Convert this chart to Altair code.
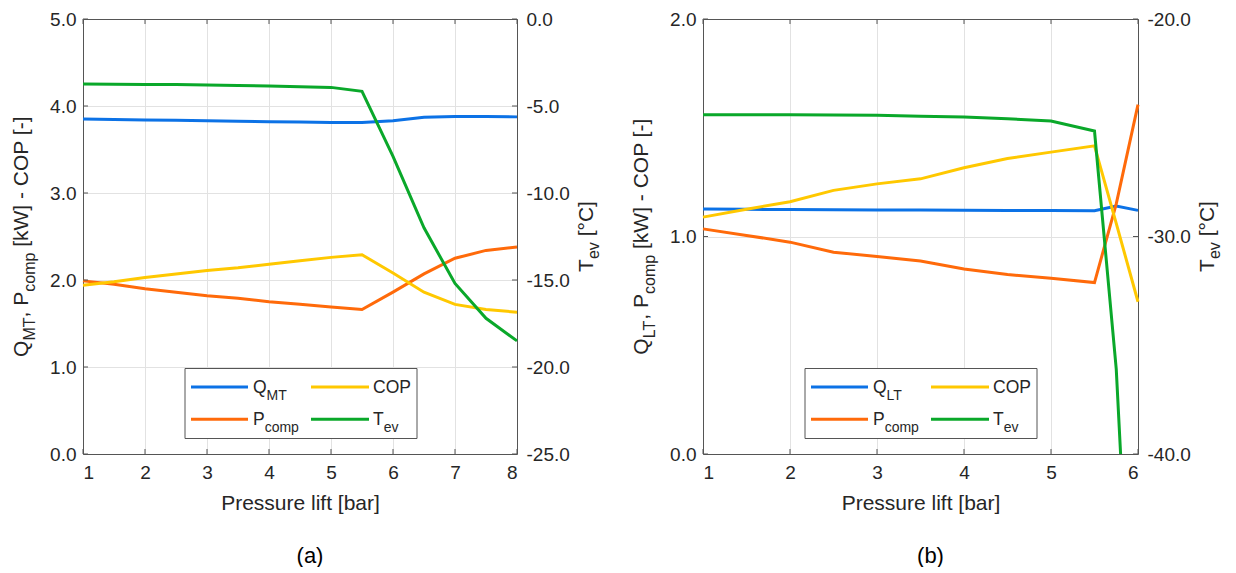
import altair as alt
import pandas as pd

FONT = "Liberation Sans"
TXT = "#262626"
DOM = "#555555"
GRID = "#e2e2e2"

# ---------------- data: panel (a) ----------------
a_x = [1, 1.5, 2, 2.5, 3, 3.5, 4, 4.5, 5, 5.5, 6, 6.5, 7, 7.5, 8]
a_q = [3.85, 3.845, 3.84, 3.835, 3.83, 3.825, 3.82, 3.815, 3.81, 3.81, 3.83, 3.87, 3.88, 3.88, 3.875]
a_cop = [1.94, 1.98, 2.03, 2.07, 2.11, 2.14, 2.18, 2.22, 2.26, 2.29, 2.08, 1.86, 1.72, 1.66, 1.63]
a_p = [1.99, 1.95, 1.90, 1.86, 1.82, 1.79, 1.75, 1.72, 1.69, 1.66, 1.86, 2.07, 2.25, 2.34, 2.38]
a_tx = [1, 1.5, 2, 2.5, 3, 3.5, 4, 4.5, 5, 5.5, 6, 6.5, 7, 7.5, 8]
a_t = [-3.74, -3.75, -3.76, -3.77, -3.79, -3.82, -3.85, -3.89, -3.93, -4.16, -7.9, -12.0, -15.2, -17.2, -18.5]
a_xticks = [1, 2, 3, 4, 5, 6, 7, 8]
a_lticks = [0, 1, 2, 3, 4, 5]
a_rticks = [-25, -20, -15, -10, -5, 0]

# ---------------- data: panel (b) ----------------
b_x = [1, 1.5, 2, 2.5, 3, 3.5, 4, 4.5, 5, 5.5, 5.75, 6]
b_q = [1.126, 1.125, 1.124, 1.123, 1.122, 1.122, 1.121, 1.120, 1.119, 1.118, 1.14, 1.12]
b_cop = [1.089, 1.125, 1.16, 1.212, 1.242, 1.265, 1.316, 1.359, 1.388, 1.417, 1.06, 0.70]
b_p = [1.035, 1.005, 0.974, 0.928, 0.908, 0.887, 0.851, 0.825, 0.808, 0.788, 1.15, 1.606]
b_tx = [1, 1.5, 2, 2.5, 3, 3.5, 4, 4.5, 5, 5.5, 5.75, 5.8]
b_t = [-24.40, -24.40, -24.40, -24.41, -24.43, -24.47, -24.51, -24.59, -24.69, -25.15, -36.1, -40.0]
b_xticks = [1, 2, 3, 4, 5, 6]
b_lticks = [0, 1, 2]
b_rticks = [-40, -30, -20]

SERIES = ["Q", "COP", "P", "T"]
COLORS = ["#0c72e6", "#ffc800", "#ff6a0a", "#0aa82a"]
COL = dict(zip(SERIES, COLORS))

ONE = pd.DataFrame({"k": [0]})

W = {' ': 278, ',': 278, '-': 333, '[': 278, ']': 278, '°': 400, 'C': 722, 'L': 556,
     'M': 833, 'O': 778, 'P': 667, 'Q': 778, 'T': 611, 'W': 944, 'c': 500, 'e': 556,
     'k': 500, 'm': 833, 'o': 556, 'p': 556, 'v': 500}


def tw(s, size):
    return sum(W.get(ch, 556) for ch in s) * size / 1000.0


def txt(t, x, y, size, angle=0, dx=0, dy=0, align="left", baseline="alphabetic", color=TXT):
    kw = dict(font=FONT, fontSize=size, align=align, baseline=baseline, color=color, dx=dx, dy=dy)
    if angle:
        kw["angle"] = angle
    return alt.Chart(ONE).mark_text(**kw).encode(x=alt.value(x), y=alt.value(y), text=alt.value(t))


def split_lead(t, fs):
    """SVG drops leading blanks, so turn them into an advance."""
    s = t.lstrip(" ")
    return s, tw(t[: len(t) - len(s)], fs)


def rich_h(segs, x, y, size, subsize, subdy):
    out, cum = [], 0.0
    for t, s in segs:
        fs = subsize if s else size
        body, lead = split_lead(t, fs)
        out.append(txt(body, x + cum + lead, y + (subdy if s else 0), fs))
        cum += tw(t, fs)
    return out


def rich_v(segs, x, yc, size, subsize, subdy):
    widths = [tw(t, subsize if s else size) for t, s in segs]
    cum = -sum(widths) / 2.0
    out = []
    for (t, s), w in zip(segs, widths):
        fs = subsize if s else size
        body, lead = split_lead(t, fs)
        out.append(txt(body, x, yc, fs, angle=270, dx=cum + lead, dy=subdy if s else 0))
        cum += w
    return out


def legend(qsub):
    L = [alt.Chart(ONE).mark_rect(fill="white", stroke=DOM, strokeWidth=1).encode(
        x=alt.value(102), x2=alt.value(334), y=alt.value(349.5), y2=alt.value(419.5))]
    rows = [(368, [("Q", qsub, "Q"), ("COP", None, "COP")]),
            (400.3, [("P", "comp", "P"), ("T", "ev", "T")])]
    cols = [(108, 165, 170), (228, 286, 290)]
    for ly, entries in rows:
        for (main, sub, key), (lx1, lx2, tx0) in zip(entries, cols):
            L.append(alt.Chart(ONE).mark_rule(strokeWidth=3, color=COL[key]).encode(
                x=alt.value(lx1), x2=alt.value(lx2), y=alt.value(ly)))
            segs = [(main, False)] + ([(sub, True)] if sub else [])
            L += rich_h(segs, tx0, ly + 5.5, 17.5, 14, 7)
    return L


lab = dict(labelFont=FONT, labelFontSize=19, labelColor=TXT, domainColor=DOM,
           gridColor=GRID, ticks=False)
H = 435
TICK = 5


def panel(x, q, cop, p, tx, t, qsub, xticks, lticks, rticks, width, caption):
    rows = []
    for name, vals in (("Q", q), ("P", p), ("COP", cop)):
        for xi, v in zip(x, vals):
            rows.append({"x": xi, "v": v, "s": name})
    dl = pd.DataFrame(rows)
    dr = pd.DataFrame({"x": tx, "v": t, "s": ["T"] * len(t)})
    xs = alt.Scale(domain=[xticks[0], xticks[-1]], nice=False, zero=False)
    ls = alt.Scale(domain=[lticks[0], lticks[-1]], nice=False)
    rs = alt.Scale(domain=[rticks[0], rticks[-1]], nice=False)
    cs = alt.Scale(domain=SERIES, range=COLORS)

    left = alt.Chart(dl).mark_line(strokeWidth=3).encode(
        x=alt.X("x:Q", scale=xs, axis=alt.Axis(
            orient="bottom", values=xticks, format="d", grid=True, labelPadding=9,
            title="Pressure lift [bar]", titleFont=FONT, titleFontSize=21, titleColor=TXT,
            titleFontWeight="normal", titlePadding=10, **lab)),
        y=alt.Y("v:Q", scale=ls, axis=alt.Axis(
            orient="left", values=lticks, format=".1f", grid=True, labelPadding=7, title=None, **lab)),
        color=alt.Color("s:N", scale=cs, legend=None),
    )
    right = alt.Chart(dr).mark_line(strokeWidth=3).encode(
        x=alt.X("x:Q", scale=xs, axis=alt.Axis(
            orient="top", values=xticks, labels=False, grid=False, title=None, **lab)),
        y=alt.Y("v:Q", scale=rs, axis=alt.Axis(
            orient="right", values=rticks, grid=False, labelPadding=9, title=None,
            labelExpr="(datum.value < 0 ? '-' : '') + format(abs(datum.value), '.1f')", **lab)),
        color=alt.Color("s:N", scale=cs, legend=None),
    )
    # inward tick marks on all four sides, placed through the scales
    dxt = pd.DataFrame({"t": xticks})
    dlt = pd.DataFrame({"t": lticks})
    drt = pd.DataFrame({"t": rticks})
    tk = dict(color=DOM, strokeWidth=1)
    ticks = [
        alt.Chart(dxt).mark_rule(**tk).encode(x=alt.X("t:Q", scale=xs, axis=None),
                                               y=alt.value(H), y2=alt.value(H - TICK)),
        alt.Chart(dxt).mark_rule(**tk).encode(x=alt.X("t:Q", scale=xs, axis=None),
                                               y=alt.value(0), y2=alt.value(TICK)),
        alt.Chart(dlt).mark_rule(**tk).encode(y=alt.Y("t:Q", scale=ls, axis=None),
                                               x=alt.value(0), x2=alt.value(TICK)),
        alt.Chart(drt).mark_rule(**tk).encode(y=alt.Y("t:Q", scale=rs, axis=None),
                                               x=alt.value(width), x2=alt.value(width - TICK)),
    ]
    extras = []
    extras += rich_v([("Q", False), (qsub, True), (", P", False), ("comp", True),
                      (" [kW] - COP [-]", False)], -55, 217.5, 21, 16, 7)
    extras += rich_v([("T", False), ("ev", True), (" [°C]", False)], width + 76, 217.5, 21, 16, 6)
    extras += legend(qsub)
    extras.append(txt(caption, width / 2 + 10, 537, 22, align="center", baseline="middle", color="#000000"))
    return alt.layer(left, right, *ticks, *extras).resolve_scale(y="independent").resolve_axis(
        x="independent", y="independent").properties(width=width, height=H)


pa = panel(a_x, a_q, a_cop, a_p, a_tx, a_t, "MT", a_xticks, a_lticks, a_rticks, 434, "(a)")
pb = panel(b_x, b_q, b_cop, b_p, b_tx, b_t, "LT", b_xticks, b_lticks, b_rticks, 435, "(b)")

chart = alt.hconcat(pa, pb, spacing=29).properties(
    padding={"left": 3, "top": 2, "right": 0, "bottom": 0}
).configure_view(strokeWidth=0)

chart.save("out.html", embed_options={"renderer": "svg", "actions": False})
